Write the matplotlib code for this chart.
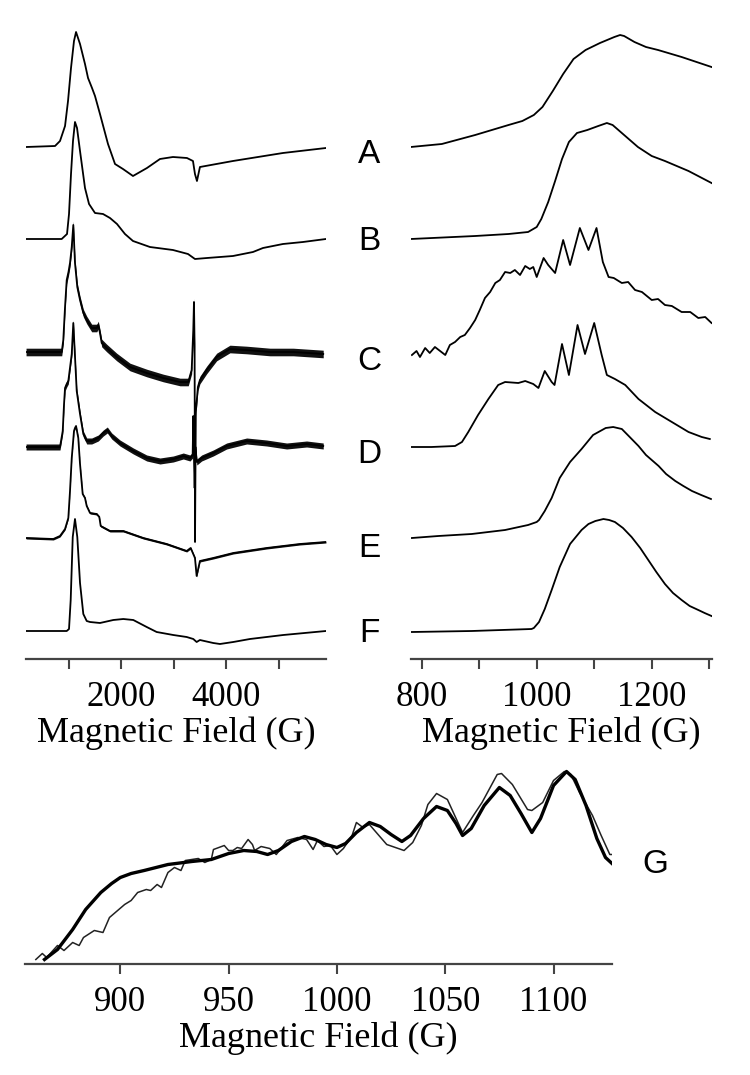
import matplotlib.pyplot as plt

plt.rcParams['font.family'] = 'Liberation Serif'

# ---- left panel: full field sweep (G) vs intensity (arb.) ----
left_A_field = [180, 733, 828, 924, 981, 1038, 1095, 1134, 1210, 1305, 1363, 1439, 1496, 1591, 1744, 1878,
                2030, 2221, 2488, 2736, 2984, 3251, 3366, 3404, 3442, 3499, 4129, 5083, 5904]
left_A_int = [0, 1, 6, 21, 46, 79, 106, 115, 103, 83, 69, 59, 51, 33, 3, -17,
              -22, -29, -21, -12, -10, -11, -14, -27, -34, -20, -14, -6, -1]

left_B_field = [180, 860, 962, 1000, 1038, 1076, 1114, 1153, 1210, 1305, 1382, 1496, 1649, 1782, 1916,
                2068, 2221, 2545, 2984, 3271, 3404, 3633, 4129, 4511, 4702, 5083, 5465, 5904]
left_B_int = [0, 0, 5, 25, 65, 98, 117, 111, 88, 51, 35, 26, 25, 21, 15,
              5, -2, -8, -11, -15, -20, -19, -17, -13, -9, -5, -3, 0]

left_C_field = [180, 861, 891, 924, 956, 990, 1019, 1052, 1082, 1114, 1158, 1210, 1273, 1338, 1433, 1530,
                1559, 1591, 1624, 1719, 1910, 2164, 2483, 2799, 3118, 3276, 3341, 3372, 3385, 3397, 3405,
                3420, 3460, 3499, 3627, 3818, 4072, 4391, 4835, 5280, 5852]
left_C_int = [0, 0, 12, 45, 72, 80, 89, 105, 127, 89, 65, 52, 39, 32, 24, 24,
              27, 19, 9, 4, -5, -15, -21, -26, -30, -30, -18, 22, 50, 5, -190,
              -60, -35, -28, -18, -5, 3, 2, 0, 0, -2]

left_D_field = [180, 828, 880, 905, 924, 956, 987, 1052, 1082, 1147, 1210, 1273, 1338, 1433, 1559, 1654,
                1731, 1815, 1973, 2227, 2483, 2736, 2990, 3181, 3309, 3360, 3372, 3385, 3398, 3412, 3440,
                3532, 3753, 4009, 4391, 4772, 5154, 5535, 5852]
left_D_int = [0, 0, 16, 43, 59, 63, 66, 93, 124, 56, 33, 13, 6, 6, 9, 14,
              17, 11, 4, -4, -11, -14, -12, -9, -11, -8, 31, -10, -41, 0, -15,
              -11, -6, 1, 6, 4, 1, 3, 1]

left_E_field = [180, 700, 828, 924, 987, 1019, 1052, 1095, 1114, 1134, 1177, 1210, 1261, 1305, 1338, 1401,
                1529, 1578, 1605, 1782, 2036, 2418, 2864, 3246, 3322, 3404, 3436, 3499, 3753, 4135, 4772,
                5407, 5904]
left_E_int = [0, -1, 2, 9, 20, 47, 80, 107, 110, 112, 100, 74, 44, 40, 32, 25,
              24, 21, 12, 7, 7, 0, -6, -13, -10, -20, -38, -23, -20, -15, -10,
              -6, -4]

left_F_field = [180, 956, 1000, 1032, 1071, 1114, 1158, 1210, 1273, 1338, 1401, 1591, 1845, 2036, 2227,
                2483, 2673, 2990, 3246, 3372, 3436, 3499, 3753, 3881, 4135, 4454, 5089, 5904]
left_F_int = [0, 0, 2, 31, 94, 112, 94, 48, 17, 10, 9, 8, 11, 12, 11,
              4, -1, -4, -6, -8, -11, -9, -12, -13, -11, -8, -4, 0]

# ---- right panel: expanded low-field region ----
right_A_field = [781, 835, 893, 951, 975, 995, 1010, 1028, 1046, 1064, 1085, 1110, 1135, 1145, 1152, 1170,
                 1190, 1211, 1252, 1304]
right_A_int = [0, 3, 12, 22, 26, 32, 40, 56, 73, 88, 97, 104, 110, 112, 111, 105, 100, 97, 90, 80]

right_B_field = [781, 893, 951, 985, 1000, 1008, 1020, 1032, 1044, 1056, 1070, 1088, 1107, 1122, 1132, 1150,
                 1176, 1200, 1223, 1264, 1304]
right_B_int = [0, 3, 5, 7, 12, 20, 37, 58, 80, 97, 106, 109, 113, 116, 114, 105, 92, 83, 78, 68, 56]

right_C_field = [783, 791, 797, 806, 814, 823, 832, 841, 849, 858, 867, 875, 884, 893, 901, 910,
                 919, 928, 936, 945, 954, 962, 971, 980, 988, 994, 1000, 1012, 1020, 1032, 1046,
                 1058, 1075, 1090, 1104, 1115, 1125, 1134, 1148, 1159, 1171, 1183, 1200, 1211, 1223,
                 1235, 1252, 1267, 1281, 1293, 1304]
right_C_int = [-3, 1, -5, 4, -1, 5, 1, -3, 7, 10, 15, 17, 24, 32, 42, 54,
               60, 69, 72, 80, 79, 82, 77, 86, 83, 85, 75, 94, 87, 79, 112,
               87, 124, 102, 124, 90, 75, 74, 69, 70, 62, 60, 52, 53, 47,
               46, 40, 40, 34, 35, 29]

right_D_field = [783, 817, 858, 870, 881, 898, 916, 933, 945, 968, 980, 994, 1003, 1014, 1026, 1031,
                 1044, 1056, 1071, 1084, 1100, 1113, 1122, 1136, 1154, 1177, 1206, 1235, 1264, 1287, 1301]
right_D_int = [0, 0, 1, 5, 15, 32, 48, 62, 65, 64, 66, 63, 59, 76, 65, 62,
               103, 72, 122, 93, 124, 92, 72, 68, 62, 48, 35, 25, 15, 10, 8]

right_E_field = [783, 829, 887, 945, 985, 1000, 1004, 1014, 1026, 1040, 1058, 1078, 1098, 1120, 1133, 1148,
                 1160, 1177, 1190, 1212, 1225, 1241, 1255, 1270, 1286, 1303]
right_E_int = [0, 2, 4, 8, 13, 16, 18, 27, 40, 60, 76, 89, 103, 110, 111, 109,
               102, 92, 83, 72, 64, 57, 52, 47, 43, 39]

right_F_field = [783, 887, 991, 995, 1004, 1014, 1026, 1040, 1058, 1078, 1090, 1102, 1116, 1126, 1136, 1150,
                 1165, 1180, 1194, 1208, 1223, 1237, 1252, 1266, 1281, 1292, 1304]
right_F_int = [-1, 0, 2, 3, 9, 22, 41, 64, 87, 101, 107, 110, 112, 111, 109, 103,
               94, 83, 71, 59, 47, 38, 31, 25, 21, 18, 15]

# vertical stacking of traces A..F (same in both panels)
trace_offsets = [512, 420, 307, 212, 121, 28]
trace_names = ['A', 'B', 'C', 'D', 'E', 'F']

# ---- bottom panel G: simulation (thick) vs experiment (thin) ----
sim_field = [865, 871, 878, 884, 891, 896, 900, 905, 911, 922, 933, 942, 950, 957, 963, 968,
             973, 979, 985, 990, 995, 1000, 1004, 1009, 1015, 1020, 1025, 1030, 1034, 1040, 1046,
             1051, 1055, 1058, 1062, 1068, 1075, 1080, 1085, 1090, 1094, 1100, 1106, 1110, 1115,
             1120, 1124, 1127]
sim_int = [4, 14, 34, 54, 71, 80, 86, 90, 93, 99, 102, 104, 110, 113, 112, 109,
           113, 122, 127, 124, 119, 116, 120, 131, 141, 137, 129, 122, 128, 145, 157,
           153, 140, 128, 135, 158, 176, 168, 150, 131, 145, 178, 192, 184, 158,
           125, 106, 100]

exp_field = [861, 864, 866, 871, 874, 878, 881, 883, 888, 892, 895, 902, 905, 908, 912, 914,
             917, 919, 922, 925, 928, 930, 936, 939, 942, 943, 948, 950, 952, 954, 956, 959,
             961, 962, 965, 969, 972, 977, 982, 986, 989, 991, 994, 997, 1000, 1003, 1007, 1009,
             1012, 1015, 1019, 1023, 1027, 1031, 1035, 1039, 1042, 1046, 1051, 1058, 1063, 1067,
             1074, 1076, 1081, 1088, 1090, 1095, 1100, 1105, 1108, 1112, 1118, 1122, 1126, 1127]
exp_int = [4, 10, 6, 18, 13, 21, 18, 26, 33, 31, 46, 59, 63, 71, 74, 73,
           79, 76, 91, 96, 93, 103, 105, 101, 104, 114, 118, 113, 113, 116, 115, 124,
           119, 113, 117, 115, 109, 123, 126, 124, 114, 123, 117, 118, 109, 115, 128, 141,
           136, 139, 129, 119, 116, 113, 121, 138, 159, 170, 164, 131, 148, 161,
           189, 190, 179, 154, 153, 161, 183, 192, 189, 171, 148, 128, 109, 109]

fig = plt.figure(figsize=(7.5, 10.75), dpi=100)
W, H = 750.0, 1075.0

ax_left = fig.add_axes([26 / W, 1 - 659 / H, 300 / W, 644 / H])
ax_right = fig.add_axes([411 / W, 1 - 659 / H, 300.7 / W, 644 / H])
ax_g = fig.add_axes([25 / W, 1 - 963.5 / H, 587 / W, 203.5 / H])

left_traces = [(left_A_field, left_A_int), (left_B_field, left_B_int), (left_C_field, left_C_int),
               (left_D_field, left_D_int), (left_E_field, left_E_int), (left_F_field, left_F_int)]
right_traces = [(right_A_field, right_A_int), (right_B_field, right_B_int), (right_C_field, right_C_int),
                (right_D_field, right_D_int), (right_E_field, right_E_int), (right_F_field, right_F_int)]
# half-height of the noise band drawn around the noisy full-sweep traces (pixels)
noise_band = [0, 0, 3.8, 3.0, 1.0, 0]

for (f, v), off, nb in zip(left_traces, trace_offsets, noise_band):
    y = [a + off for a in v]
    ax_left.plot(f, y, color='black', lw=1.3, solid_joinstyle='round')
    if nb:
        ax_left.fill_between(f, [a - nb for a in y], [a + nb for a in y], color='#111111', lw=0)
for (f, v), off in zip(right_traces, trace_offsets):
    ax_right.plot(f, [a + off for a in v], color='black', lw=1.3, solid_joinstyle='round')

ax_g.plot(exp_field, exp_int, color='#222222', lw=1.1)
ax_g.plot(sim_field, sim_int, color='black', lw=2.4, solid_joinstyle='round')

ax_left.set_xlim(179, 5905)
ax_right.set_xlim(781.4, 1304.3)
ax_g.set_xlim(856, 1127)
ax_left.set_ylim(0, 644)
ax_right.set_ylim(0, 644)
ax_g.set_ylim(0, 203.5)

ax_left.set_xticks([1000, 2000, 3000, 4000, 5000])
ax_left.set_xticklabels(['', '2000', '', '4000', ''])
ax_right.set_xticks([800, 900, 1000, 1100, 1200, 1300])
ax_right.set_xticklabels(['800', '', '1000', '', '1200', ''])
ax_g.set_xticks([900, 950, 1000, 1050, 1100])

for ax in [ax_left, ax_right, ax_g]:
    for s in ['left', 'right', 'top']:
        ax.spines[s].set_visible(False)
    ax.spines['bottom'].set_color('#444444')
    ax.spines['bottom'].set_linewidth(1.6)
    ax.set_yticks([])
    ax.tick_params(axis='x', direction='out', length=7, width=1.5, color='#444444',
                   labelsize=25, pad=9)
    ax.set_xlabel('Magnetic Field (G)', fontsize=26, labelpad=2)

# trace letters between the panels
letter_baselines = [163, 250, 370, 463, 557, 642]
for name, yb in zip(trace_names, letter_baselines):
    fig.text(369 / W, 1 - yb / H, name, fontsize=24, family='Liberation Sans',
             ha='center', va='baseline')
fig.text(642 / W, 1 - 873 / H, 'G', fontsize=24, family='Liberation Sans', ha='left', va='baseline')

fig.savefig('out.png', dpi=100)
